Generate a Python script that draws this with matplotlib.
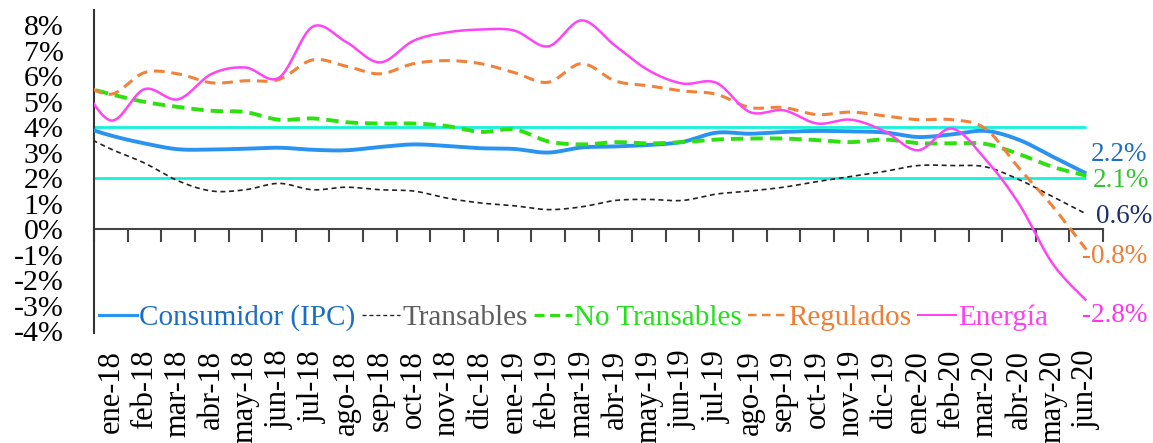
import numpy as np
import matplotlib
matplotlib.use("Agg")
import matplotlib.pyplot as plt
from matplotlib.lines import Line2D

# Months shown on the axis (the series also carry dic-17 so the curves run into the axis)
months = ["ene-18", "feb-18", "mar-18", "abr-18", "may-18", "jun-18", "jul-18", "ago-18",
          "sep-18", "oct-18", "nov-18", "dic-18", "ene-19", "feb-19", "mar-19", "abr-19",
          "may-19", "jun-19", "jul-19", "ago-19", "sep-19", "oct-19", "nov-19", "dic-19",
          "ene-20", "feb-20", "mar-20", "abr-20", "may-20", "jun-20"]

# Annual inflation (%), dic-17 .. jun-20
consumidor = [4.09, 3.68, 3.37, 3.14, 3.13, 3.16, 3.20, 3.12, 3.10, 3.23, 3.33, 3.27, 3.18,
              3.15, 3.01, 3.21, 3.25, 3.31, 3.43, 3.79, 3.75, 3.82, 3.86, 3.84, 3.80,
              3.62, 3.72, 3.86, 3.51, 2.85, 2.19]
transables = [3.80, 3.15, 2.60, 1.90, 1.50, 1.55, 1.80, 1.55, 1.65, 1.55, 1.50, 1.22, 1.03,
              0.92, 0.77, 0.88, 1.13, 1.17, 1.13, 1.38, 1.50, 1.65, 1.87, 2.07, 2.27,
              2.50, 2.50, 2.45, 1.95, 1.28, 0.60]
no_transables = [5.65, 5.30, 5.00, 4.80, 4.65, 4.60, 4.30, 4.35, 4.20, 4.15, 4.15, 4.05, 3.82,
                 3.92, 3.45, 3.33, 3.42, 3.37, 3.42, 3.52, 3.56, 3.56, 3.50, 3.42, 3.52,
                 3.38, 3.37, 3.35, 2.95, 2.45, 2.10]
regulados = [5.85, 5.30, 6.15, 6.10, 5.75, 5.83, 5.88, 6.65, 6.40, 6.10, 6.50, 6.62, 6.50,
             6.15, 5.77, 6.50, 5.82, 5.63, 5.43, 5.30, 4.78, 4.78, 4.50, 4.60, 4.45,
             4.30, 4.30, 3.95, 2.40, 0.90, -0.80]
energia = [5.95, 4.27, 5.50, 5.10, 6.10, 6.35, 5.95, 7.95, 7.35, 6.55, 7.40, 7.73, 7.84,
           7.80, 7.18, 8.20, 7.20, 6.23, 5.72, 5.75, 4.60, 4.67, 4.15, 4.30, 3.85,
           3.10, 3.95, 2.75, 1.00, -1.35, -2.80]

# Target range bounds (%)
target_low = 2.0
target_high = 4.0

y_ticks = [-4, -3, -2, -1, 0, 1, 2, 3, 4, 5, 6, 7, 8]


def smooth_curve(xs, ys, steps=24):
    """Bezier smoothing through every point (control points from neighbouring slopes)."""
    p = np.column_stack([xs, ys]).astype(float)
    ext = np.vstack([p[0], p, p[-1]])
    t = np.linspace(0, 1, steps)[:, None]
    out = []
    for i in range(len(p) - 1):
        p0, p1, p2, p3 = ext[i], ext[i + 1], ext[i + 2], ext[i + 3]
        c1 = p1 + (p2 - p0) / 6.0
        c2 = p2 - (p3 - p1) / 6.0
        seg = ((1 - t) ** 3) * p1 + 3 * ((1 - t) ** 2) * t * c1 + 3 * (1 - t) * t ** 2 * c2 + t ** 3 * p2
        out.append(seg if i == 0 else seg[1:])
    seg = np.vstack(out)
    return seg[:, 0], seg[:, 1]


plt.rcParams["font.family"] = ["Liberation Serif", "DejaVu Serif"]

fig = plt.figure(figsize=(11.53, 4.43), dpi=100)
ax = fig.add_axes([0.0815, 0.248, 0.8752, 0.729])

n = len(months)
x_all = np.arange(-1, n)  # dic-17 sits one step left of the first label

ymin, ymax = -4.08, 8.6
ax.set_xlim(-0.5, n - 0.5)
ax.set_ylim(ymin, ymax)

# Target band lines
ax.hlines([target_low, target_high], -0.5, n - 1, colors="#12F2DA", linewidth=2.0, zorder=2)

series = [
    ("Consumidor (IPC)", consumidor, dict(color="#2A93F0", lw=2.8, ls="-"), "#1A6FC4"),
    ("Transables", transables, dict(color="#222222", lw=1.2, ls=(0, (3, 2.2))), "#5E5E5E"),
    ("No Transables", no_transables, dict(color="#2EE010", lw=2.8, ls=(0, (3.2, 1.8))), "#22E01A"),
    ("Regulados", regulados, dict(color="#F0823A", lw=2.2, ls=(0, (3.5, 2.2))), "#EE7D35"),
    ("Energía", energia, dict(color="#FF44F4", lw=1.8, ls="-"), "#FF40F4"),
]
end_colors = ["#1F6FC0", "#1B2F66", "#33C433", "#EE7D35", "#FF33F0"]
end_offsets = [(4, 19), (10, -3), (6, -5), (-4, -7), (-4, -15)]

handles = []
for (name, vals, style, _), ec, off in zip(series, end_colors, end_offsets):
    sx, sy = smooth_curve(x_all, vals)
    ax.plot(sx, sy, color=style["color"], lw=style["lw"], ls=style["ls"], zorder=3,
            solid_capstyle="butt", dash_capstyle="butt")
    handles.append(Line2D([0], [0], color=style["color"], lw=style["lw"] * 0.8, ls=style["ls"]))
    ax.annotate(f"{vals[-1]:.1f}%", xy=(x_all[-1], vals[-1]), xytext=off,
                textcoords="offset pixels", ha="left", va="center", fontsize=19.5,
                color=ec, annotation_clip=False)

# Axes styling
for side in ["top", "right", "bottom"]:
    ax.spines[side].set_visible(False)
ax.spines["left"].set_color("#333333")
ax.spines["left"].set_linewidth(1.5)

ax.set_yticks(y_ticks)
ax.set_yticklabels([f"{v}%" for v in y_ticks], fontsize=21.5)
ax.tick_params(axis="y", length=0, pad=22)

ax.set_xticks(np.arange(n))
ax.set_xticklabels(months, rotation=90, fontsize=22, va="top", ha="center")
ax.tick_params(axis="x", length=0, pad=12)

# Horizontal axis line crossing at zero, with boundary tick marks
zero_frac = (0 - ymin) / (ymax - ymin)
sec = ax.secondary_xaxis(zero_frac)
sec.set_xticks(np.arange(n + 1) - 0.5)
sec.set_xticklabels([])
sec.tick_params(axis="x", direction="out", length=9, width=1.5, color="#444444")
sec.spines["bottom"].set_color("#444444")
sec.spines["bottom"].set_linewidth(1.5)

leg = ax.legend(handles, [s[0] for s in series], loc="center left",
                bbox_to_anchor=(0.005, 0.047), ncol=5, frameon=False, fontsize=21,
                handlelength=1.3, handletextpad=0.08, columnspacing=0.22, borderpad=0,
                borderaxespad=0)
for txt, s in zip(leg.get_texts(), series):
    txt.set_color(s[3])

fig.savefig("out.png", dpi=100)
